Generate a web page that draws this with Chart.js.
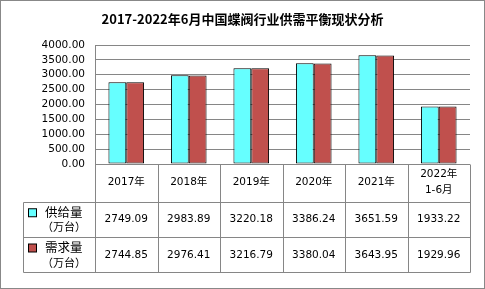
<!DOCTYPE html>
<html>
<head>
<meta charset="utf-8">
<script src="https://cdn.jsdelivr.net/npm/chart.js@4.4.0/dist/chart.umd.min.js"></script>
<style>
  html, body { margin: 0; padding: 0; background: #fff; }
  #wrap { width: 485px; height: 289px; }
</style>
</head>
<body>
<div id="wrap"><canvas id="c" width="485" height="289"></canvas></div>
<script>
const titleText = "2017-2022年6月中国蝶阀行业供需平衡现状分析";
const categories = ["2017年", "2018年", "2019年", "2020年", "2021年", "2022年\n1-6月"];
const supplyName = ["供给量", "（万台）"];
const demandName = ["需求量", "（万台）"];
const supplyValues = [2749.09, 2983.89, 3220.18, 3386.24, 3651.59, 1933.22];
const demandValues = [2744.85, 2976.41, 3216.79, 3380.04, 3643.95, 1929.96];
const yTicks = [0, 500, 1000, 1500, 2000, 2500, 3000, 3500, 4000];

const SUPPLY_COLOR = "#66FFFF";
const DEMAND_COLOR = "#C0504D";
const GRID = "#868686";
const FONT = '"DejaVu Sans", "Noto Sans CJK SC", sans-serif';
const CJK = '"Noto Sans CJK SC", "DejaVu Sans", sans-serif';

const tablePlugin = {
  id: "tablePlugin",
  beforeDraw(chart) {
    const ctx = chart.ctx;
    ctx.save();
    ctx.fillStyle = "#fff";
    ctx.fillRect(0, 0, chart.width, chart.height);
    ctx.restore();
  },
  afterDraw(chart) {
    const ctx = chart.ctx;
    const a = chart.chartArea;
    const n = categories.length;
    const L = a.left, R = a.right;
    const w = (R - L) / n;
    const y0 = a.bottom;
    const yH = y0 + 37.5;
    const yR1 = yH + 35.5;
    const yR2 = yR1 + 35;
    const legL = 23;
    const px = v => Math.round(v) + 0.5;

    ctx.save();
    ctx.fillStyle = "#000";
    ctx.font = "bold 13px " + CJK;
    ctx.textAlign = "center";
    ctx.textBaseline = "middle";
    ctx.fillText(titleText, chart.width / 2, 19);

    ctx.strokeStyle = GRID;
    ctx.lineWidth = 1;
    ctx.beginPath();
    for (let i = 0; i <= n; i++) {
      const x = px(L + i * w);
      ctx.moveTo(x, px(y0)); ctx.lineTo(x, px(yR2));
    }
    ctx.moveTo(px(legL), px(yH)); ctx.lineTo(px(legL), px(yR2));
    [yH, yR1, yR2].forEach(y => { ctx.moveTo(px(legL), px(y)); ctx.lineTo(px(R), px(y)); });
    ctx.stroke();

    ctx.fillStyle = "#000";
    ctx.font = "10.5px " + FONT;
    ctx.textAlign = "center";
    ctx.textBaseline = "middle";
    categories.forEach((c, i) => {
      const cx = L + (i + 0.5) * w;
      const lines = c.split("\n");
      const cy = (y0 + yH) / 2;
      const lh = 16;
      lines.forEach((ln, k) => {
        ctx.fillText(ln, cx, cy + (k - (lines.length - 1) / 2) * lh);
      });
    });

    [[supplyValues, (yH + yR1) / 2], [demandValues, (yR1 + yR2) / 2]].forEach(([vals, cy]) => {
      vals.forEach((v, i) => {
        ctx.fillText(v.toFixed(2), L + (i + 0.5) * w, cy + 0.5);
      });
    });

    const drawKey = (color, names, top, bot) => {
      const cy = (top + bot) / 2;
      ctx.fillStyle = color;
      ctx.fillRect(28.5, cy - 10.5, 8, 8);
      ctx.strokeStyle = "#000";
      ctx.strokeRect(28.5, cy - 10.5, 8, 8);
      ctx.fillStyle = "#000";
      ctx.font = "12.5px " + CJK;
      ctx.textAlign = "left";
      ctx.fillText(names[0], 45, cy - 7);
      ctx.font = "11px " + CJK;
      ctx.fillText(names[1], 42, cy + 8);
    };
    drawKey(SUPPLY_COLOR, supplyName, yH, yR1);
    drawKey(DEMAND_COLOR, demandName, yR1, yR2);

    ctx.strokeStyle = "#888";
    ctx.lineWidth = 1;
    ctx.strokeRect(0.5, 0.5, 484, 288);
    ctx.restore();
  }
};

new Chart(document.getElementById("c"), {
  type: "bar",
  data: {
    labels: categories,
    datasets: [
      { label: supplyName.join(""), data: supplyValues, backgroundColor: SUPPLY_COLOR,
        borderColor: "#000", borderWidth: 1, borderSkipped: false },
      { label: demandName.join(""), data: demandValues, backgroundColor: DEMAND_COLOR,
        borderColor: "#000", borderWidth: 1, borderSkipped: false }
    ]
  },
  options: {
    responsive: false,
    animation: false,
    devicePixelRatio: 1,
    layout: { padding: { left: 0, top: 45, right: 15, bottom: 125 } },
    datasets: { bar: { categoryPercentage: 0.57, barPercentage: 1.0 } },
    plugins: { legend: { display: false }, title: { display: false }, tooltip: { enabled: false } },
    scales: {
      x: { display: false },
      y: {
        min: 0, max: 4000,
        afterFit(scale) { scale.width = 95; },
        afterBuildTicks(scale) { scale.ticks = yTicks.map(v => ({ value: v })); },
        ticks: { color: "#000", font: { size: 10.5, family: FONT }, padding: 10,
                 autoSkip: false, callback: v => Number(v).toFixed(2) },
        grid: { color: GRID, lineWidth: 1, drawTicks: false },
        border: { display: true, color: GRID, width: 1 }
      }
    }
  },
  plugins: [tablePlugin]
});
</script>
</body>
</html>
